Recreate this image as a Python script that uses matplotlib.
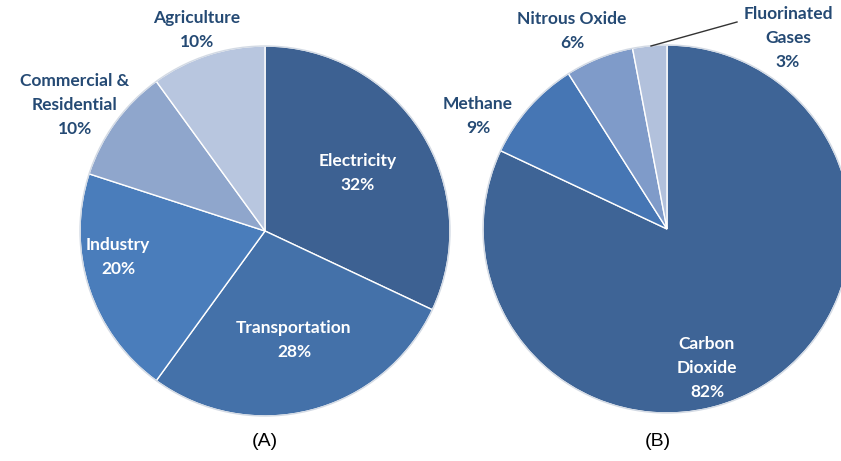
import matplotlib
matplotlib.use("Agg")
import matplotlib.pyplot as plt

W, H = 841, 461

# (A) emissions by sector
sectors = ["Electricity", "Transportation", "Industry", "Commercial &\nResidential", "Agriculture"]
sector_pct = [32, 28, 20, 10, 10]
sector_colors = ["#3d6192", "#4471a9", "#4a7dbb", "#8fa6cc", "#b8c6df"]

# (B) emissions by gas
gases = ["Carbon\nDioxide", "Methane", "Nitrous Oxide", "Fluorinated\nGases"]
gas_pct = [82, 9, 6, 3]
gas_colors = ["#3e6496", "#4676b4", "#7f9bc9", "#b2c1dc"]

# label layout in pixel coords (x, y from top), and whether label sits inside
sector_label_xy = [(358, 173), (294, 340), (118, 257), (75, 105), (197, 30)]
sector_inside = [True, True, True, False, False]
gas_label_xy = [(707, 368), (478, 116), (572, 31), (788, 38)]
gas_inside = [True, False, False, False]

dark = "#254a74"
font = ["Lato", "DejaVu Sans"]

fig = plt.figure(figsize=(W / 100, H / 100), dpi=100)
ax = fig.add_axes([0, 0, 1, 1])


def draw_pie(values, colors, labels, label_xy, inside, center, radius):
    cx, cy = center
    ax.pie(values, colors=colors, startangle=90, counterclock=False,
           center=(cx, H - cy), radius=radius,
           wedgeprops=dict(edgecolor="white", linewidth=1.0))
    # faint rim
    rim = plt.Circle((cx, H - cy), radius, fill=False, edgecolor="#d3dae4", linewidth=1.0)
    ax.add_patch(rim)
    for lab, v, (x, y), ins in zip(labels, values, label_xy, inside):
        ax.text(x, H - y, f"{lab}\n{v}%", ha="center", va="center",
                fontsize=12.5, fontweight="bold", family=font,
                color="white" if ins else dark, linespacing=1.6)


draw_pie(sector_pct, sector_colors, sectors, sector_label_xy, sector_inside, (265, 231), 185)
draw_pie(gas_pct, gas_colors, gases, gas_label_xy, gas_inside, (667, 229), 184)

# leader line for fluorinated gases
ax.plot([651, 737], [H - 46, H - 22], color="#333333", linewidth=1)

ax.text(265, H - 441, "(A)", ha="center", va="center", fontsize=14, family="Liberation Sans")
ax.text(658, H - 441, "(B)", ha="center", va="center", fontsize=14, family="Liberation Sans")

ax.set_xlim(0, W)
ax.set_ylim(0, H)
ax.set_aspect("equal")
ax.axis("off")
fig.savefig("out.png", dpi=100)
